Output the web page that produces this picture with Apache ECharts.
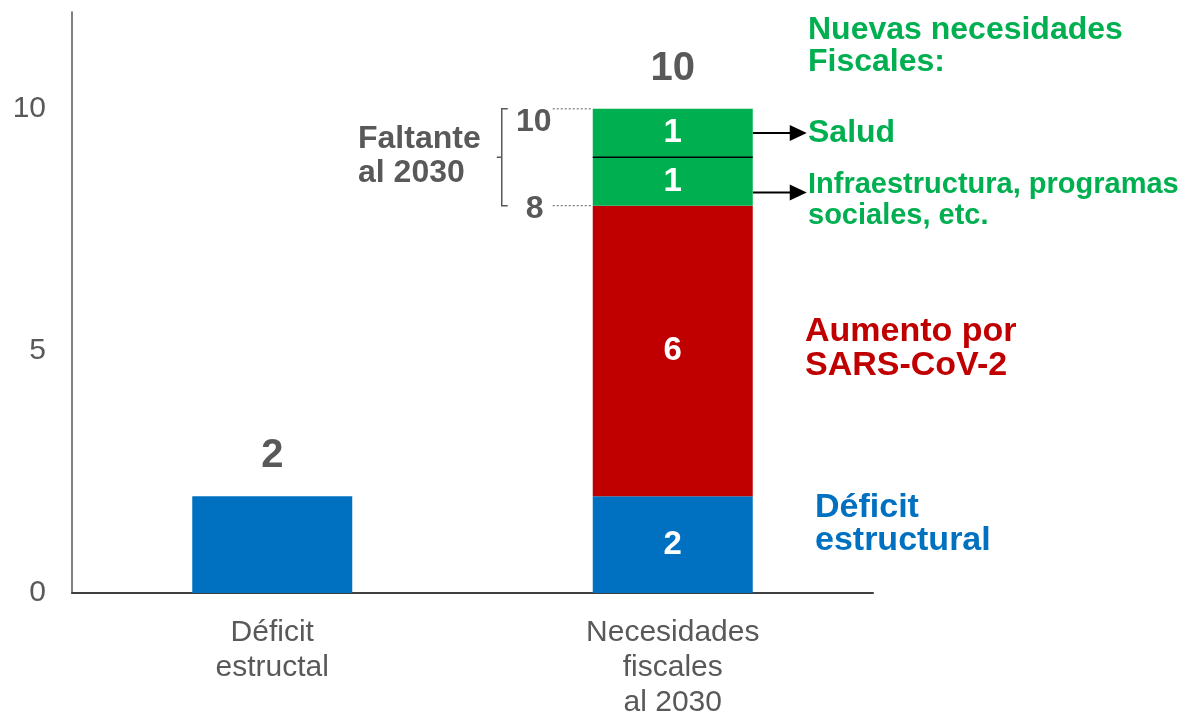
<!DOCTYPE html>
<html>
<head>
<meta charset="utf-8">
<script src="https://cdn.jsdelivr.net/npm/echarts@6/dist/echarts.min.js"></script>
<style>
  html, body { margin: 0; padding: 0; background: #fff; }
  #chart { width: 1186px; height: 720px; }
</style>
</head>
<body>
<div id="chart"></div>
<script>
// datos
const categories = ['Déficit\nestructal', 'Necesidades\nfiscales\nal 2030'];
const deficitVals = [2, 2];
const sarsVals = ['-', 6];
const infraVals = ['-', 1];
const saludVals = ['-', 1];
const totals = [2, 10];
const yTicks = [0, 5, 10];
const faltanteRange = [8, 10];

const FONT = '"Liberation Sans", Arial, sans-serif';
const GRAY = '#595959';
const BLUE = '#0070C0';
const RED = '#C00000';
const GREEN = '#00B050';
const BAR_W = 160;

const chart = echarts.init(document.getElementById('chart'));

// etiqueta blanca dentro del segmento
const inLabel = {
  show: true,
  position: 'inside',
  color: '#fff',
  fontFamily: FONT,
  fontWeight: 'bold',
  fontSize: 33
};

chart.setOption({
  animation: false,
  grid: { left: 72, right: 313, top: 12, bottom: 124 },
  xAxis: {
    type: 'category',
    data: categories,
    axisTick: { show: false },
    axisLine: { lineStyle: { color: '#404040', width: 2 } },
    axisLabel: {
      color: GRAY, fontFamily: FONT, fontSize: 30, lineHeight: 35, margin: 22
    }
  },
  yAxis: {
    type: 'value',
    min: 0,
    max: 12,
    interval: 5,
    splitLine: { show: false },
    axisTick: { show: false },
    axisLine: { show: true, lineStyle: { color: GRAY, width: 1.5 } },
    axisLabel: {
      color: GRAY, fontFamily: FONT, fontSize: 30, margin: 26,
      showMaxLabel: false,
      formatter: v => (yTicks.indexOf(v) >= 0 ? String(v) : '')
    }
  },
  series: [
    {
      name: 'Déficit estructural',
      type: 'bar', stack: 'total', barWidth: BAR_W,
      itemStyle: { color: BLUE },
      data: deficitVals.map((v, i) => ({
        value: v,
        label: i === 0 ? { show: false } : inLabel
      }))
    },
    {
      name: 'Aumento por SARS-CoV-2',
      type: 'bar', stack: 'total', barWidth: BAR_W,
      itemStyle: { color: RED },
      label: inLabel,
      data: sarsVals
    },
    {
      name: 'Infraestructura',
      type: 'bar', stack: 'total', barWidth: BAR_W,
      itemStyle: { color: GREEN },
      label: inLabel,
      data: infraVals
    },
    {
      name: 'Salud',
      type: 'bar', stack: 'total', barWidth: BAR_W,
      itemStyle: { color: GREEN },
      label: inLabel,
      data: saludVals
    },
    {
      // totales encima de cada barra
      name: 'Total',
      type: 'bar', stack: 'total', barWidth: BAR_W,
      itemStyle: { color: 'transparent' },
      label: {
        show: true, position: 'top', distance: 20,
        color: GRAY, fontFamily: FONT, fontWeight: 'bold', fontSize: 40,
        formatter: p => String(totals[p.dataIndex])
      },
      data: totals.map(() => 0)
    }
  ]
});

// anotaciones
const px = (c, v) => chart.convertToPixel({ xAxisIndex: 0, yAxisIndex: 0 }, [c, v]);
const cx = px(1, 0)[0];
const barL = cx - BAR_W / 2, barR = cx + BAR_W / 2;
const yHi = px(1, faltanteRange[1])[1];
const yLo = px(1, faltanteRange[0])[1];
const yMid = px(1, 9)[1];
const yOf = v => px(1, v)[1];

function txt(x, y, text, color, size, lh, align) {
  return {
    type: 'text', x: x, y: y,
    style: {
      text: text, fill: color, fontFamily: FONT, fontWeight: 'bold',
      fontSize: size, lineHeight: lh,
      align: align || 'left', verticalAlign: 'middle'
    }
  };
}
function arrow(y) {
  return [
    { type: 'line', shape: { x1: barR, y1: y, x2: barR + 40, y2: y },
      style: { stroke: '#000', lineWidth: 2 } },
    { type: 'polygon', shape: { points: [[barR + 37, y - 8], [barR + 54, y], [barR + 37, y + 8]] },
      style: { fill: '#000' } }
  ];
}

const graphic = [
  // línea entre los dos segmentos verdes
  { type: 'line', shape: { x1: barL, y1: yMid, x2: barR, y2: yMid },
    style: { stroke: '#000', lineWidth: 1.5 }, z: 10 },
  // líneas punteadas 10 y 8
  { type: 'line', shape: { x1: barL - 40, y1: yHi, x2: barL, y2: yHi },
    style: { stroke: GRAY, lineWidth: 1, lineDash: [2, 2] } },
  { type: 'line', shape: { x1: barL - 40, y1: yLo, x2: barL, y2: yLo },
    style: { stroke: GRAY, lineWidth: 1, lineDash: [2, 2] } },
  // corchete
  { type: 'polyline', shape: { points: [[barL - 85, yHi], [barL - 91, yHi], [barL - 91, yLo], [barL - 85, yLo]] },
    style: { stroke: GRAY, lineWidth: 1.5, fill: null } },
  { type: 'line', shape: { x1: barL - 91, y1: yMid, x2: barL - 96, y2: yMid },
    style: { stroke: GRAY, lineWidth: 1.5 } },
  txt(barL - 59, yHi + 13, String(faltanteRange[1]), GRAY, 32, 32, 'center'),
  txt(barL - 58, yLo + 4, String(faltanteRange[0]), GRAY, 32, 32, 'center'),
  txt(358, yMid - 1, 'Faltante\nal 2030', GRAY, 32, 34),
  // textos a la derecha
  txt(808, yOf(11.3), 'Nuevas necesidades\nFiscales:', GREEN, 32, 32),
  txt(808, yOf(9.5), 'Salud', GREEN, 32, 32),
  txt(808, yOf(8.1), 'Infraestructura, programas\nsociales, etc.', GREEN, 29, 31),
  txt(805, yOf(5.05), 'Aumento por\nSARS-CoV-2', RED, 34, 34),
  txt(815, yOf(1.42), 'Déficit\nestructural', BLUE, 34, 33)
].concat(arrow(yOf(9.5)), arrow(yOf(8.27)));

chart.setOption({ graphic: graphic });
</script>
</body>
</html>
